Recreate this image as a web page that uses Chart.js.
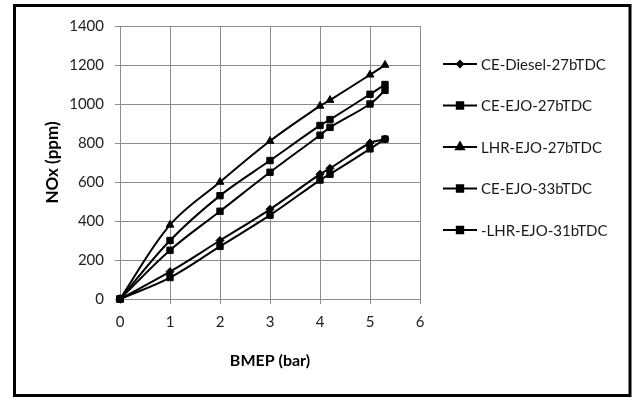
<!DOCTYPE html>
<html>
<head>
<meta charset="utf-8">
<script src="https://cdn.jsdelivr.net/npm/chart.js@4/dist/chart.umd.min.js"></script>
<style>
  html, body { margin: 0; padding: 0; background: #fff; }
  #wrap { width: 632px; height: 398px; }
</style>
</head>
<body>
<div id="wrap"><canvas id="nox"></canvas></div>
<script>
// BMEP (bar) load points, shared by all series
const bmep = [0, 1, 2, 3, 4, 4.2, 5, 5.3];

// NOx (ppm) for each engine configuration
const ceDiesel27 = [0, 140, 300, 460, 640, 670, 800, 820];
const ceEjo27 = [0, 110, 270, 430, 610, 640, 770, 820];
const lhrEjo27 = [0, 380, 600, 810, 990, 1020, 1150, 1200];
const ceEjo33 = [0, 250, 450, 650, 840, 880, 1000, 1070];
const lhrEjo31 = [0, 300, 530, 710, 890, 920, 1050, 1100];

const seriesNames = ['CE-Diesel-27bTDC', 'CE-EJO-27bTDC', 'LHR-EJO-27bTDC', 'CE-EJO-33bTDC', '-LHR-EJO-31bTDC'];
const seriesValues = [ceDiesel27, ceEjo27, lhrEjo27, ceEjo33, lhrEjo31];
const markers = ['rectRot', 'rect', 'triangle', 'rect', 'rect'];

const FONT = 'Lato, "Liberation Sans", sans-serif';

const toPoints = (ys) => ys.map((y, i) => ({ x: bmep[i], y: y }));

const datasets = seriesValues.map((ys, i) => ({
  label: seriesNames[i],
  data: toPoints(ys),
  borderColor: '#000',
  backgroundColor: '#000',
  borderWidth: 2,
  pointStyle: markers[i],
  pointRadius: markers[i] === 'rectRot' ? 4 : 4.5,
  pointBorderWidth: 1,
  tension: 0.35,
  showLine: true,
  clip: false
}));

// legend on the right: line with the marker in the middle, then the name
const sideLegend = {
  id: 'sideLegend',
  afterDraw(chart) {
    const ctx = chart.ctx;
    ctx.save();
    const top = 64, gap = 41.5;
    chart.data.datasets.forEach((ds, i) => {
      const y = top + i * gap;
      ctx.strokeStyle = '#000';
      ctx.lineWidth = 2;
      ctx.beginPath();
      ctx.moveTo(443, y);
      ctx.lineTo(477, y);
      ctx.stroke();
      Chart.helpers.drawPoint(ctx, {
        pointStyle: ds.pointStyle,
        radius: ds.pointStyle === 'rectRot' ? 3 : 4.5,
        borderWidth: 1
      }, 460, y);
      ctx.fillStyle = '#000';
      ctx.fill();
      ctx.font = '15px ' + FONT;
      ctx.textBaseline = 'middle';
      ctx.textAlign = 'left';
      ctx.fillStyle = '#1a1a1a';
      ctx.fillText(ds.label, 481, y + 1);
    });
    // frame around the whole figure
    ctx.strokeStyle = '#000';
    ctx.lineWidth = 3;
    ctx.strokeRect(14.5, 5.5, 615.5, 390);
    ctx.restore();
  }
};

new Chart(document.getElementById('nox'), {
  type: 'scatter',
  data: { datasets: datasets },
  options: {
    responsive: true,
    maintainAspectRatio: false,
    animation: false,
    layout: { padding: { left: 38, top: 26, right: 212, bottom: 24 } },
    plugins: {
      legend: { display: false },
      tooltip: { enabled: false }
    },
    scales: {
      x: {
        type: 'linear',
        min: 0,
        max: 6,
        ticks: { stepSize: 1, color: '#222', font: { family: FONT, size: 15 }, padding: 9 },
        grid: { color: '#8c8c8c', tickLength: 5, lineWidth: 1 },
        border: { color: '#8c8c8c' },
        title: { display: true, text: 'BMEP (bar)', color: '#000', font: { family: FONT, size: 16, weight: 'bold' } },
        afterFit(scale) { scale.height = 75; }
      },
      y: {
        min: 0,
        max: 1400,
        ticks: {
          stepSize: 200,
          color: '#222',
          font: { family: FONT, size: 15 },
          padding: 11,
          callback: (v) => String(v)
        },
        grid: { color: '#8c8c8c', tickLength: 5, lineWidth: 1 },
        border: { color: '#8c8c8c' },
        title: { display: true, text: 'NOx (ppm)', color: '#000', font: { family: FONT, size: 17, weight: 'bold' } },
        afterFit(scale) { scale.width = 82; }
      }
    }
  },
  plugins: [sideLegend]
});
</script>
</body>
</html>
